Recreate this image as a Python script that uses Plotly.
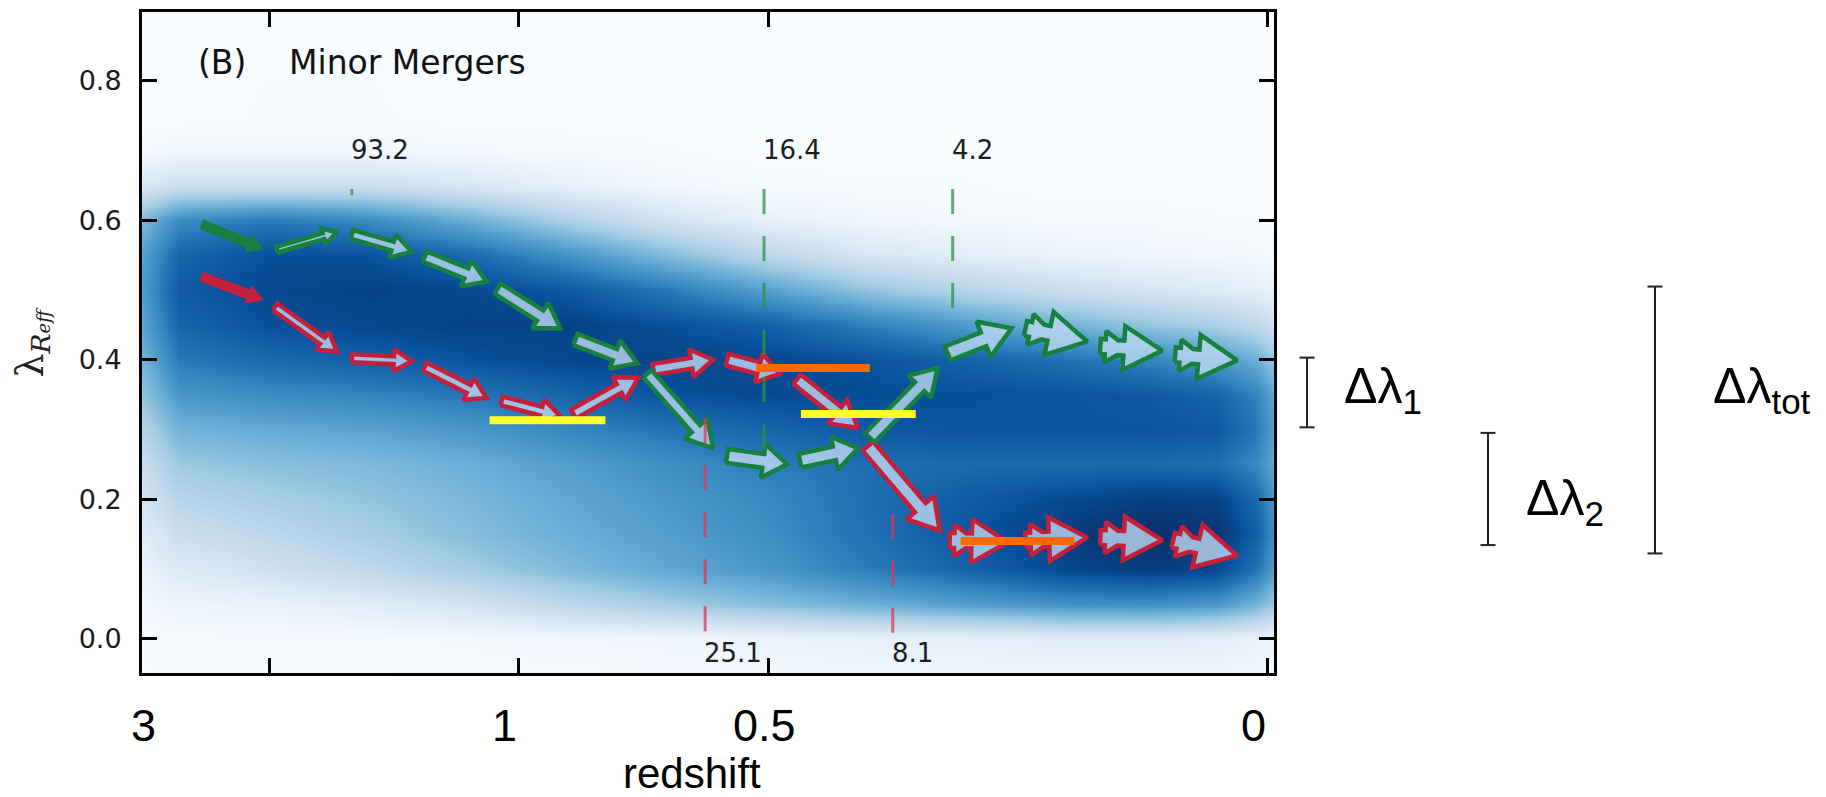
import numpy as np
import plotly.graph_objects as go

# ---------------------------------------------------------------- data ----
# x axis runs in lookback time (Gyr); redshift labels are placed along it
redshift_labels = ["3", "1", "0.5", "0"]
redshift_label_t = [11.26, 7.64, 5.04, 0.14]
axis_ticks_t = [0, 5, 7.5, 10]

lam_ticks = [0.0, 0.2, 0.4, 0.6, 0.8]
lam_ticktext = ["0.0", "0.2", "0.4", "0.6", "0.8"]

# galaxy density in the (lookback time, lambda_Reff) plane
dens_t = [-0.2, 0.1, 0.5, 1.2, 2.0, 3.0, 4.0, 5.0, 6.0, 7.0, 8.0, 9.0, 10.0, 10.9, 11.35]
dens_lam = [-0.1, 0.0, 0.05, 0.1, 0.15, 0.2, 0.25, 0.3, 0.35, 0.4, 0.45,
            0.5, 0.55, 0.6, 0.65, 0.7, 0.75, 0.95]
# one column per dens_t entry, listed from low to high lambda
dens_cols = [
    [0, 0.05, 0.30, 0.45, 0.50, 0.47, 0.42, 0.45, 0.42, 0.30, 0.16, 0.06, 0.02, 0, 0, 0, 0, 0],
    [0, 0.08, 0.48, 0.74, 0.82, 0.78, 0.66, 0.72, 0.68, 0.50, 0.27, 0.10, 0.03, 0.01, 0, 0, 0, 0],
    [0, 0.11, 0.60, 0.92, 0.98, 0.93, 0.76, 0.85, 0.80, 0.60, 0.34, 0.13, 0.04, 0.01, 0, 0, 0, 0],
    [0, 0.12, 0.64, 0.95, 1.00, 0.94, 0.78, 0.87, 0.85, 0.68, 0.40, 0.17, 0.05, 0.02, 0, 0, 0, 0],
    [0, 0.12, 0.63, 0.91, 0.96, 0.90, 0.78, 0.87, 0.87, 0.75, 0.48, 0.22, 0.07, 0.02, 0, 0, 0, 0],
    [0, 0.10, 0.57, 0.81, 0.86, 0.84, 0.78, 0.87, 0.88, 0.81, 0.58, 0.30, 0.11, 0.03, 0.01, 0, 0, 0],
    [0, 0.09, 0.50, 0.71, 0.75, 0.76, 0.76, 0.85, 0.89, 0.87, 0.70, 0.40, 0.16, 0.05, 0.01, 0, 0, 0],
    [0, 0.07, 0.43, 0.60, 0.64, 0.66, 0.70, 0.80, 0.90, 0.91, 0.82, 0.56, 0.28, 0.09, 0.02, 0, 0, 0],
    [0, 0.05, 0.36, 0.53, 0.57, 0.60, 0.64, 0.74, 0.87, 0.92, 0.88, 0.72, 0.44, 0.18, 0.04, 0.01, 0, 0],
    [0, 0.04, 0.28, 0.45, 0.50, 0.53, 0.57, 0.67, 0.80, 0.91, 0.93, 0.85, 0.62, 0.33, 0.09, 0.02, 0, 0],
    [0, 0.03, 0.18, 0.36, 0.43, 0.46, 0.50, 0.60, 0.73, 0.87, 0.93, 0.91, 0.78, 0.50, 0.16, 0.03, 0, 0],
    [0, 0.02, 0.12, 0.27, 0.35, 0.40, 0.45, 0.55, 0.68, 0.82, 0.91, 0.93, 0.87, 0.65, 0.22, 0.04, 0.01, 0],
    [0, 0.02, 0.08, 0.20, 0.28, 0.35, 0.42, 0.52, 0.65, 0.78, 0.88, 0.91, 0.88, 0.72, 0.22, 0.04, 0.01, 0],
    [0, 0.02, 0.06, 0.14, 0.22, 0.30, 0.38, 0.48, 0.60, 0.72, 0.80, 0.84, 0.80, 0.65, 0.22, 0.04, 0, 0],
    [0, 0.01, 0.03, 0.06, 0.10, 0.15, 0.20, 0.27, 0.35, 0.42, 0.48, 0.52, 0.50, 0.40, 0.14, 0.02, 0, 0],
]

# green track: tail and head of every step
green_t0 = [10.67, 9.92, 9.17, 8.44, 7.71, 6.93, 6.21, 5.41, 4.68, 3.98, 3.20, 2.42, 1.67, 0.92]
green_l0 = [0.594, 0.558, 0.580, 0.548, 0.502, 0.429, 0.380, 0.262, 0.255, 0.288, 0.409, 0.445, 0.419, 0.407]
green_t1 = [10.07, 9.32, 8.57, 7.82, 7.08, 6.31, 5.55, 4.81, 4.10, 3.30, 2.56, 1.80, 1.05, 0.30]
green_l1 = [0.559, 0.583, 0.555, 0.512, 0.445, 0.395, 0.273, 0.250, 0.273, 0.388, 0.445, 0.426, 0.413, 0.399]

# red track
red_t0 = [10.67, 9.94, 9.17, 8.44, 7.67, 6.95, 6.15, 5.41, 4.71, 4.00, 3.18, 2.42, 1.67, 0.94]
red_l0 = [0.519, 0.476, 0.402, 0.390, 0.341, 0.322, 0.386, 0.400, 0.372, 0.276, 0.141, 0.141, 0.145, 0.141]
red_t1 = [10.07, 9.32, 8.57, 7.82, 7.08, 6.30, 5.55, 4.88, 4.10, 3.28, 2.60, 1.80, 1.05, 0.30]
red_l1 = [0.486, 0.412, 0.398, 0.345, 0.319, 0.374, 0.400, 0.380, 0.302, 0.155, 0.138, 0.145, 0.141, 0.119]

# mergers (mass ratios) on each track
green_merger_t = [9.17, 5.04, 3.15]
green_merger_ratio = ["93.2", "16.4", "4.2"]
green_merger_top = [0.645, 0.645, 0.645]
green_merger_bottom = [0.636, 0.255, 0.470]
red_merger_t = [5.63, 3.75]
red_merger_ratio = ["25.1", "8.1"]
red_merger_top = [0.316, 0.179]
red_merger_bottom = [0.0, 0.0]

# highlighted lambda levels
yellow_t0 = [7.79, 4.67]
yellow_t1 = [6.63, 3.52]
yellow_lam = [0.313, 0.322]
orange_t0 = [5.12, 3.07]
orange_t1 = [3.98, 1.93]
orange_lam = [0.388, 0.140]

# spin changes shown beside the panel
delta_names = ["Δλ<sub>1</sub>", "Δλ<sub>2</sub>", "Δλ<sub>tot</sub>"]
delta_lo = [0.303, 0.134, 0.122]
delta_hi = [0.403, 0.295, 0.505]

# ------------------------------------------------------------- layout ----
FIG_W, FIG_H = 1826, 797
L_M, R_M, T_M, B_M = 142, 552, 9, 124
X_RANGE = [11.273, -0.070]
Y_RANGE = [-0.0496, 0.899]
PW = FIG_W - L_M - R_M
PH = FIG_H - T_M - B_M
SX = PW / (X_RANGE[0] - X_RANGE[1])
SY = PH / (Y_RANGE[1] - Y_RANGE[0])


def to_px(t, lam):
    return L_M + (X_RANGE[0] - t) * SX, T_M + (Y_RANGE[1] - lam) * SY


def to_data(px, py):
    return X_RANGE[0] - (px - L_M) / SX, Y_RANGE[1] - (py - T_M) / SY


def px_to_paper_x(px):
    return (px - L_M) / PW


def px_to_paper_y(py):
    return (FIG_H - B_M - py) / PH


BLUES = [[0.0, "#f9fcff"], [0.125, "#deebf7"], [0.25, "#c6dbef"],
         [0.375, "#9ecae1"], [0.5, "#6baed6"], [0.625, "#4292c6"],
         [0.75, "#2171b5"], [0.875, "#08519c"], [1.0, "#08306b"]]

GREEN = "rgb(24,128,62)"
RED = "rgb(196,32,60)"
ARROW_FILL = "rgba(190,216,241,0.80)"
CHART_FONT = "DejaVu Sans"
NOTE_FONT = "Liberation Sans"

# arrow shapes in pixels: (shaft width, head width, head length, notched)
# for notched arrows the head length is a fraction of the arrow length
GREEN_STYLE = [(8, 16, 14, False), (6, 16, 14, False), (9, 24, 20, False),
               (11, 28, 22, False), (12, 30, 24, False), (12, 30, 24, False),
               (11, 30, 26, False), (14, 34, 24, False), (14, 34, 24, False),
               (13, 32, 26, False), (15, 38, 30, False), (15, 44, 0.62, True),
               (15, 44, 0.62, True), (15, 44, 0.62, True)]
RED_STYLE = [(8, 16, 14, False), (8, 22, 18, False), (8, 22, 18, False),
             (9, 24, 20, False), (9, 24, 20, False), (10, 26, 22, False),
             (11, 28, 22, False), (12, 30, 22, False), (12, 30, 26, False),
             (14, 36, 30, False), (15, 44, 0.62, True), (15, 44, 0.62, True),
             (15, 44, 0.62, True), (15, 44, 0.62, True)]


def arrow_outline(t0, l0, t1, l1, style):
    sw, hw, hl, notched = style
    p0 = np.array(to_px(t0, l0))
    p1 = np.array(to_px(t1, l1))
    d = p1 - p0
    L = float(np.hypot(*d))
    u = d / L
    n = np.array([-u[1], u[0]])
    if notched:
        hl = hl * L
        a, k, mw = 0.08 * L, 0.20 * L, sw * 2.1
        half = [(0, sw / 2), (a, sw / 2), (a, mw / 2), (a + k, sw / 2),
                (L - hl, sw / 2), (L - hl, hw / 2), (L, 0)]
    else:
        half = [(0, sw / 2), (L - hl, sw / 2), (L - hl, hw / 2), (L, 0)]
    pts = half + [(s, -w) for s, w in reversed(half[:-1])]
    xs, ys = [], []
    for s, w in pts:
        q = p0 + u * s + n * w
        tx, ty = to_data(q[0], q[1])
        xs.append(tx)
        ys.append(ty)
    xs.append(xs[0])
    ys.append(ys[0])
    return xs, ys


fig = go.Figure()

# density background
fig.add_trace(go.Heatmap(
    x=dens_t, y=dens_lam, z=np.array(dens_cols).T.tolist(),
    zmin=0, zmax=1, zsmooth="best", colorscale=BLUES,
    showscale=False, hoverinfo="skip"))


def add_track(t0s, l0s, t1s, l1s, styles, color):
    for i, (t0, l0, t1, l1) in enumerate(zip(t0s, l0s, t1s, l1s)):
        xs, ys = arrow_outline(t0, l0, t1, l1, styles[i])
        solid = i == 0
        fig.add_trace(go.Scatter(
            x=xs, y=ys, mode="lines", fill="toself",
            fillcolor=color if solid else ARROW_FILL,
            line=dict(color=color, width=2 if solid else 4.5),
            hoverinfo="skip", showlegend=False))


add_track(red_t0, red_l0, red_t1, red_l1, RED_STYLE, RED)
add_track(green_t0, green_l0, green_t1, green_l1, GREEN_STYLE, GREEN)

# merger markers
for t, top, bot in zip(green_merger_t, green_merger_top, green_merger_bottom):
    fig.add_trace(go.Scatter(
        x=[t, t], y=[top, bot], mode="lines",
        line=dict(color="rgba(40,150,65,0.75)", width=3, dash="25px,22px"),
        hoverinfo="skip", showlegend=False))
for t, top, bot in zip(red_merger_t, red_merger_top, red_merger_bottom):
    fig.add_trace(go.Scatter(
        x=[t, t], y=[top, bot], mode="lines",
        line=dict(color="rgba(225,55,80,0.75)", width=3, dash="25px,22px"),
        hoverinfo="skip", showlegend=False))

# highlighted levels
for t0, t1, lam in zip(yellow_t0, yellow_t1, yellow_lam):
    fig.add_trace(go.Scatter(x=[t0, t1], y=[lam, lam], mode="lines",
                             line=dict(color="#ffff2e", width=8),
                             hoverinfo="skip", showlegend=False))
for t0, t1, lam in zip(orange_t0, orange_t1, orange_lam):
    fig.add_trace(go.Scatter(x=[t0, t1], y=[lam, lam], mode="lines",
                             line=dict(color="#ff6a00", width=8),
                             hoverinfo="skip", showlegend=False))

annotations = []
for t, txt in zip(green_merger_t, green_merger_ratio):
    annotations.append(dict(x=t, y=0.701, xref="x", yref="y", text=txt,
                            xanchor="left", yanchor="middle", showarrow=False,
                            xshift=-3,
                            font=dict(family=CHART_FONT, size=26, color="#1e1e1e")))
for t, txt in zip(red_merger_t, red_merger_ratio):
    annotations.append(dict(x=t, y=-0.021, xref="x", yref="y", text=txt,
                            xanchor="left", yanchor="middle", showarrow=False,
                            xshift=-3,
                            font=dict(family=CHART_FONT, size=26, color="#1e1e1e")))

annotations.append(dict(x=to_data(199, 0)[0], y=0.826, xref="x", yref="y",
                        text="(B)", xanchor="left", yanchor="middle",
                        showarrow=False, xshift=-3,
                        font=dict(family=CHART_FONT, size=33, color="#111")))
annotations.append(dict(x=to_data(290, 0)[0], y=0.826, xref="x", yref="y",
                        text="Minor Mergers", xanchor="left", yanchor="middle",
                        showarrow=False, xshift=-3,
                        font=dict(family=CHART_FONT, size=33, color="#111")))

# y-axis title
annotations.append(dict(x=px_to_paper_x(32), y=0.5, xref="paper", yref="paper",
                        text="λ<sub><i>R</i><span style='font-size:18px'><i>eff</i></span></sub>",
                        textangle=-90, showarrow=False,
                        xanchor="center", yanchor="middle",
                        font=dict(family="DejaVu Serif", size=38, color="#222")))

# redshift labels below the panel
for t, txt in zip(redshift_label_t, redshift_labels):
    annotations.append(dict(x=t, y=px_to_paper_y(726), xref="x", yref="paper",
                            text=txt, xanchor="center", yanchor="middle",
                            showarrow=False,
                            font=dict(family=NOTE_FONT, size=45, color="black")))
annotations.append(dict(x=px_to_paper_x(692), y=px_to_paper_y(774),
                        xref="paper", yref="paper", text="redshift",
                        xanchor="center", yanchor="middle", showarrow=False,
                        font=dict(family=NOTE_FONT, size=42, color="black")))

# spin-change bars and labels
delta_bar_px = [1307, 1488, 1655]
delta_text_px = [(1342, 388), (1524, 501), (1711, 388)]
shapes = []
for (bx, (tx, ty), name, lo, hi) in zip(delta_bar_px, delta_text_px,
                                        delta_names, delta_lo, delta_hi):
    xb = px_to_paper_x(bx)
    cap = 7.5 / PW
    line = dict(color="#222", width=2)
    shapes.append(dict(type="line", xref="paper", yref="y", x0=xb, x1=xb,
                       y0=lo, y1=hi, line=line))
    for v in (lo, hi):
        shapes.append(dict(type="line", xref="paper", yref="y",
                           x0=xb - cap, x1=xb + cap, y0=v, y1=v, line=line))
    annotations.append(dict(x=px_to_paper_x(tx), y=px_to_paper_y(ty),
                            xref="paper", yref="paper", text=name,
                            xanchor="left", yanchor="middle", showarrow=False,
                            font=dict(family=NOTE_FONT, size=50, color="black")))

axis_common = dict(showline=True, linecolor="black", linewidth=3,
                   mirror="ticks", ticks="inside", ticklen=15, tickwidth=2.5,
                   tickcolor="black", showgrid=False, zeroline=False)

fig.update_layout(
    width=FIG_W, height=FIG_H,
    margin=dict(l=L_M, r=R_M, t=T_M, b=B_M, pad=0),
    paper_bgcolor="white", plot_bgcolor="white",
    showlegend=False,
    xaxis=dict(range=X_RANGE, tickvals=axis_ticks_t, showticklabels=False,
               **axis_common),
    yaxis=dict(range=Y_RANGE, tickvals=lam_ticks, ticktext=lam_ticktext,
               ticklabelstandoff=12,
               tickfont=dict(family=CHART_FONT, size=27, color="#1a1a1a"),
               **axis_common),
    annotations=annotations,
    shapes=shapes,
)

fig.write_html("out.html")
